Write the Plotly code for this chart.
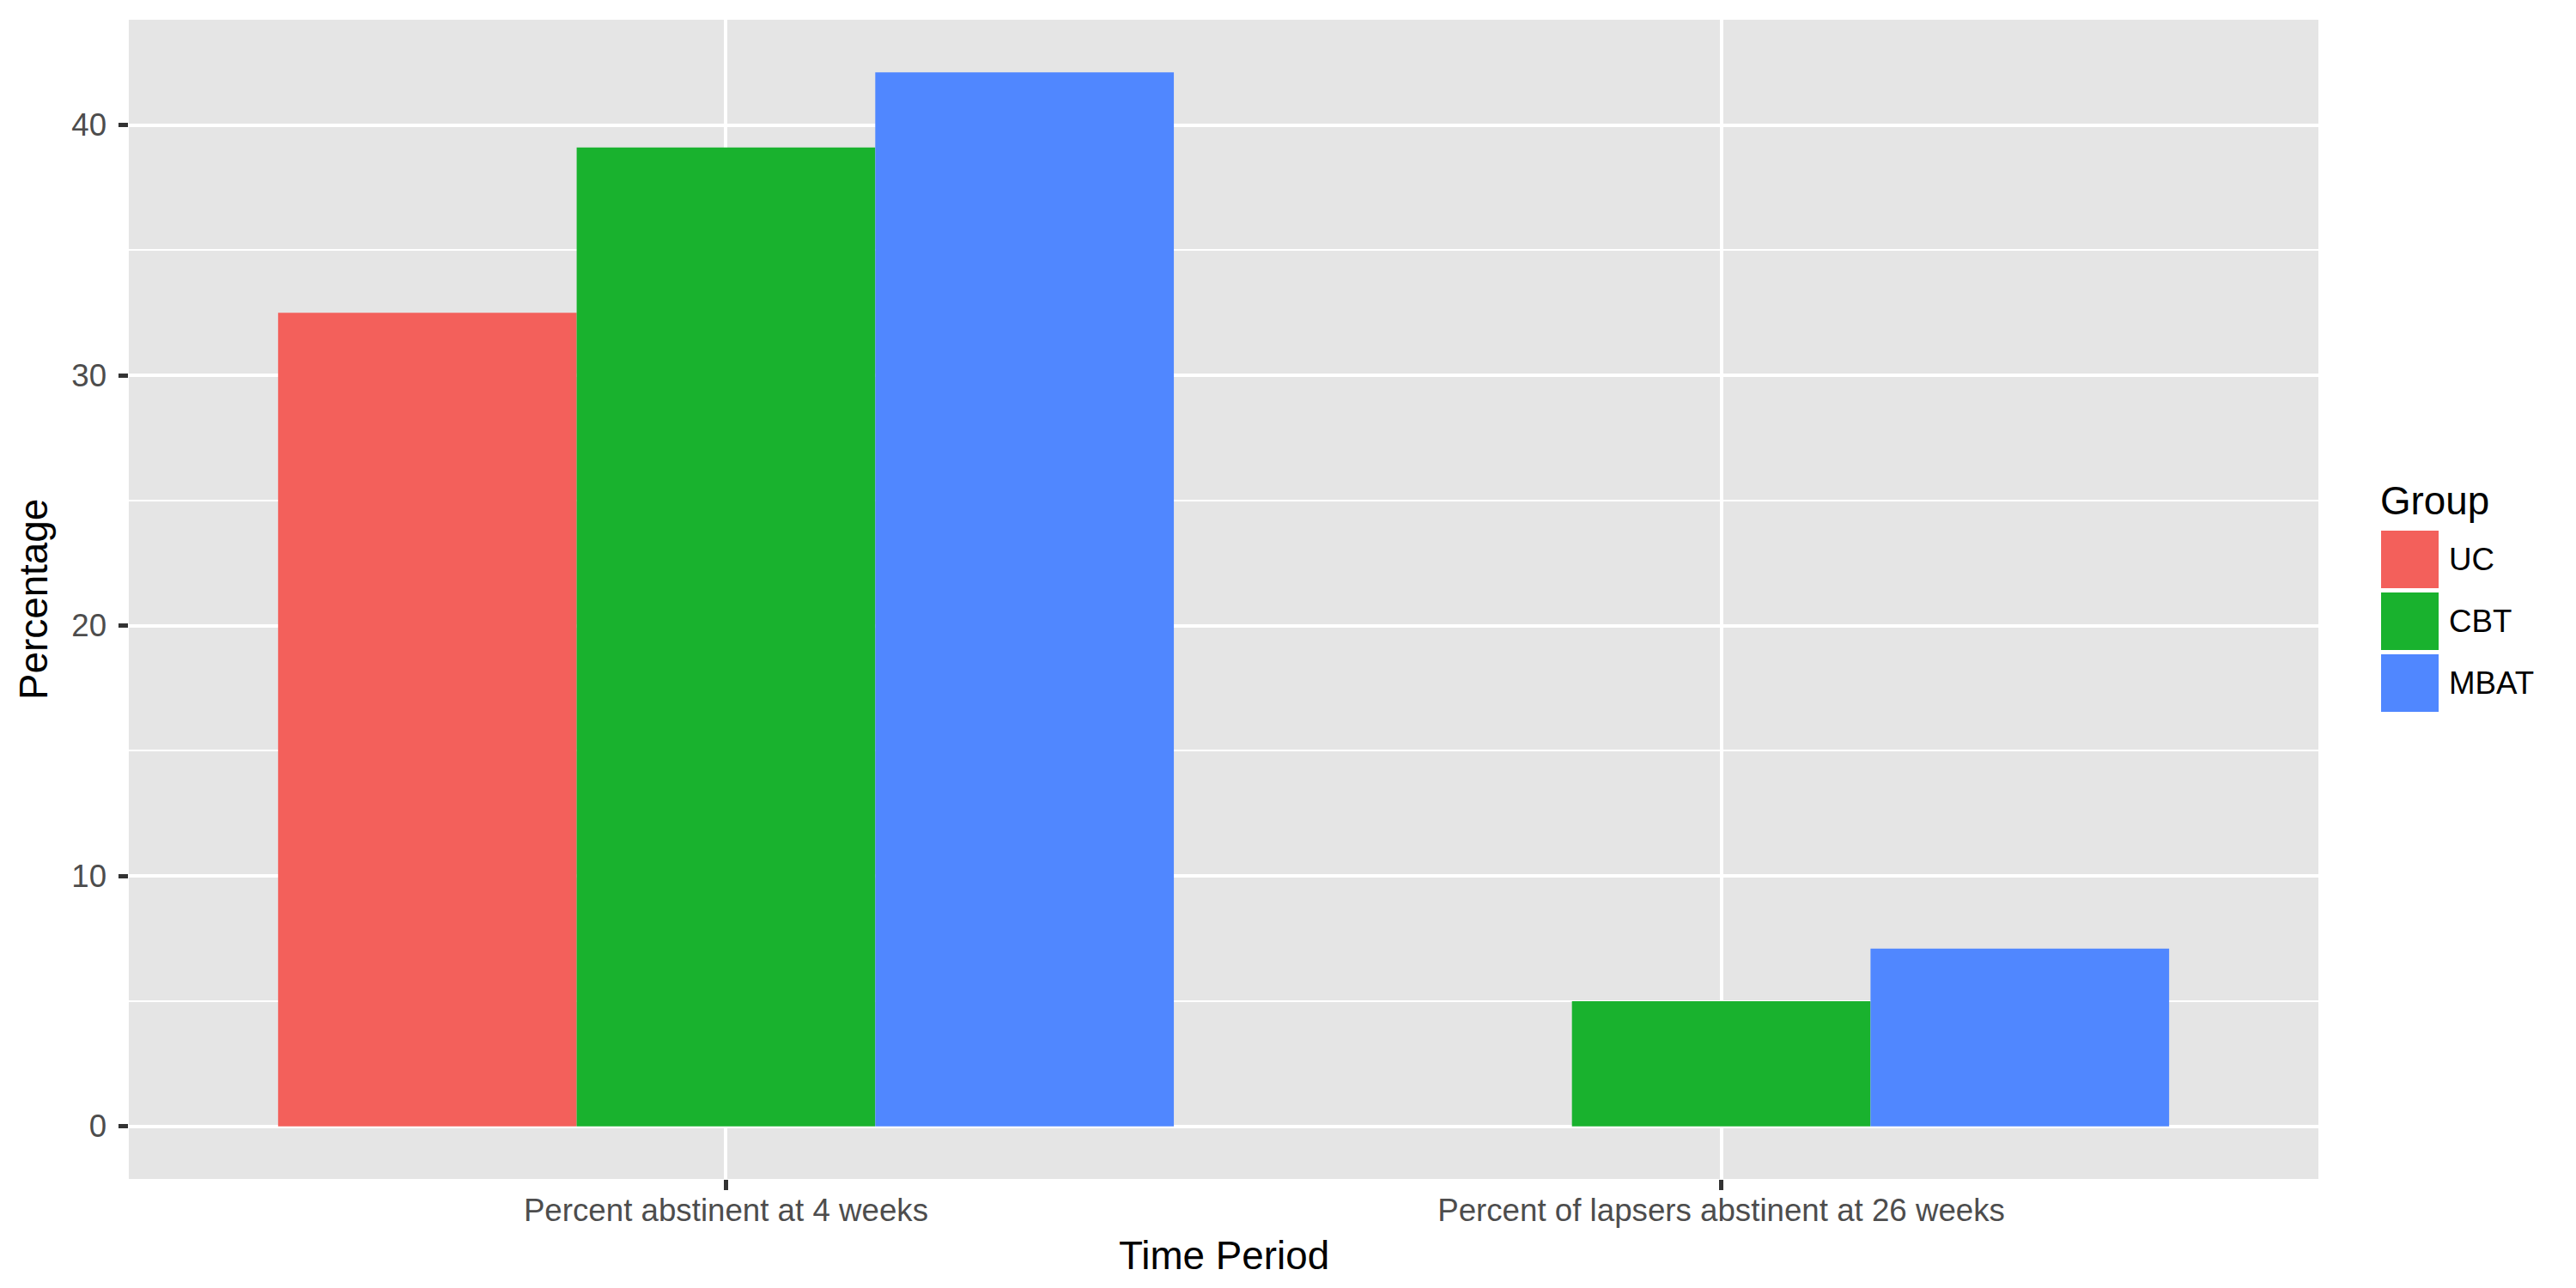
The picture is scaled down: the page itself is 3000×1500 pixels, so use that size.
import plotly.graph_objects as go

# ---- data ----
categories = ["Percent abstinent at 4 weeks", "Percent of lapsers abstinent at 26 weeks"]
groups = ["UC", "CBT", "MBAT"]
uc_values = [32.5, 0.0]
cbt_values = [39.1, 5.0]
mbat_values = [42.1, 7.1]
y_ticks = [0, 10, 20, 30, 40]
colors = ["#F3605B", "#19B22E", "#5087FF"]

series = [uc_values, cbt_values, mbat_values]

# ---- geometry (page pixels; the page body adds an 8px margin) ----
OFF = 8
W, H = 3000 - OFF, 1500 - OFF
PL, PR, PT, PB = 150, 2700, 23, 1373  # plot area in page pixels
L, T = PL - OFF, PT - OFF
R, B = W - (PR - OFF), H - (PB - OFF)
PW, PH = PR - PL, PB - PT

FONT = "Liberation Sans, Arial, Helvetica, sans-serif"
TICK_SIZE = 36.7
TITLE_SIZE = 45.8


def px_x(p):
    return (p - PL) / PW


def px_y(p):
    return (PB - p) / PH


fig = go.Figure()
for name, vals, col in zip(groups, series, colors):
    fig.add_trace(go.Bar(
        x=categories, y=vals, name=name,
        marker=dict(color=col, line=dict(width=0)),
        showlegend=False,
    ))

ymax = max(max(s) for s in series)
ymin = 0.0
pad = 0.05 * (ymax - ymin)

fig.update_layout(
    width=W, height=H, autosize=False,
    margin=dict(l=L, r=R, t=T, b=B, pad=0),
    paper_bgcolor="white", plot_bgcolor="#E5E5E5",
    barmode="group", bargap=0.1, bargroupgap=0.0,
    font=dict(family=FONT, color="black"),
    showlegend=False,
)

fig.update_xaxes(
    type="category", range=[-0.6, len(categories) - 1 + 0.6],
    showgrid=True, gridcolor="white", gridwidth=4,
    zeroline=False, showline=False,
    ticks="outside", ticklen=11.5, tickwidth=4.5, tickcolor="#333333",
    tickfont=dict(family=FONT, size=TICK_SIZE, color="#4D4D4D"),
    ticklabelstandoff=-8,
)
fig.update_yaxes(
    range=[ymin - pad, ymax + pad],
    tickmode="array", tickvals=y_ticks, ticktext=[str(v) for v in y_ticks],
    showgrid=True, gridcolor="white", gridwidth=4,
    minor=dict(showgrid=True, gridcolor="white", gridwidth=2,
               tickmode="array", tickvals=[v + 5 for v in y_ticks]),
    zeroline=False, showline=False,
    ticks="outside", ticklen=11.5, tickwidth=4.5, tickcolor="#333333",
    tickfont=dict(family=FONT, size=TICK_SIZE, color="#4D4D4D"),
    ticklabelstandoff=6,
)

annotations = [
    dict(text="Time Period", xref="paper", yref="paper", x=0.5, y=px_y(1462),
         xanchor="center", yanchor="middle", showarrow=False,
         font=dict(family=FONT, size=TITLE_SIZE, color="black")),
    dict(text="Percentage", xref="paper", yref="paper", x=px_x(39), y=0.5,
         xanchor="center", yanchor="middle", textangle=-90, showarrow=False,
         font=dict(family=FONT, size=TITLE_SIZE, color="black")),
    dict(text="Group", xref="paper", yref="paper", x=px_x(2770), y=px_y(583),
         xanchor="left", yanchor="middle", showarrow=False,
         font=dict(family=FONT, size=TITLE_SIZE, color="black")),
]

shapes = []
key_left, key_size, key_pitch, key_top = 2773, 67, 72, 618
for i, (name, col) in enumerate(zip(groups, colors)):
    top = key_top + i * key_pitch
    shapes.append(dict(
        type="rect", xref="paper", yref="paper",
        x0=px_x(key_left), x1=px_x(key_left + key_size),
        y0=px_y(top + key_size), y1=px_y(top),
        fillcolor=col, line=dict(width=0), layer="above",
    ))
    annotations.append(dict(
        text=name, xref="paper", yref="paper",
        x=px_x(2850), y=px_y(top + key_size / 2),
        xanchor="left", yanchor="middle", showarrow=False,
        font=dict(family=FONT, size=TICK_SIZE, color="black"),
    ))

fig.update_layout(annotations=annotations, shapes=shapes)

fig.write_html("out.html")
